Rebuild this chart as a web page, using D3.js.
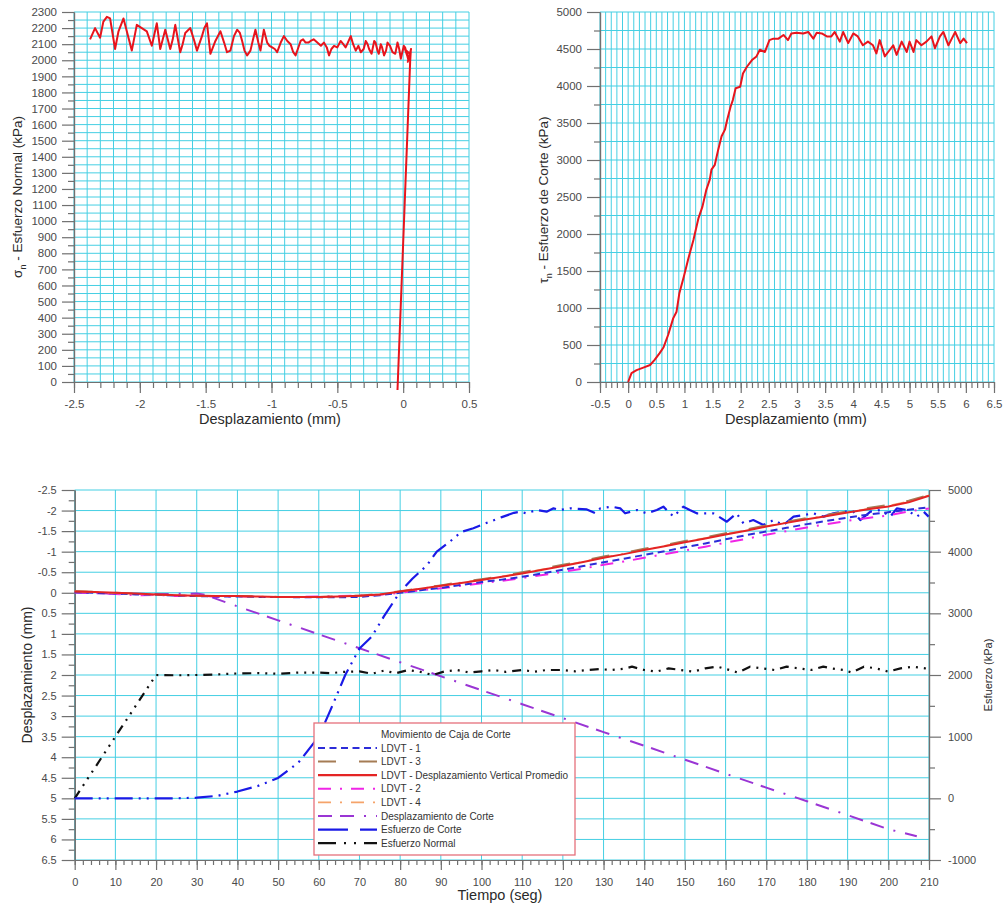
<!DOCTYPE html>
<html><head><meta charset="utf-8">
<script src="https://cdn.jsdelivr.net/npm/d3@7"></script>
<style>body{margin:0;background:#fff;} svg{display:block;}</style>
</head><body><svg id="c" width="1004" height="907"></svg>
<script>
// ---------- DATA ----------
// Chart 1: normal stress vs displacement
const sigmaX = [-0.043,0.053,0.058,0.045,0.06,0.035,0.05,0.025,0.04,0.015,0.03,0.005,-0.018,-0.03,-0.043,-0.06,-0.081,-0.1,-0.119,-0.13,-0.145,-0.16,-0.17,-0.185,-0.195,-0.21,-0.22,-0.24,-0.259,-0.27,-0.284,-0.3,-0.322,-0.34,-0.36,-0.38,-0.398,-0.42,-0.437,-0.455,-0.475,-0.5,-0.525,-0.545,-0.563,-0.58,-0.602,-0.625,-0.652,-0.68,-0.703,-0.72,-0.741,-0.76,-0.779,-0.8,-0.817,-0.835,-0.855,-0.88,-0.906,-0.93,-0.957,-0.975,-0.995,-1.015,-1.033,-1.058,-1.084,-1.1,-1.122,-1.14,-1.16,-1.185,-1.205,-1.223,-1.24,-1.261,-1.285,-1.312,-1.338,-1.36,-1.388,-1.426,-1.445,-1.464,-1.49,-1.51,-1.528,-1.566,-1.59,-1.617,-1.655,-1.675,-1.693,-1.731,-1.75,-1.769,-1.807,-1.845,-1.871,-1.909,-1.947,-1.985,-2.023,-2.061,-2.099,-2.124,-2.162,-2.188,-2.226,-2.25,-2.277,-2.302,-2.34,-2.378];
const sigmaY = [-50,1990,2060,2010,2070,1990,2040,2060,2000,2080,2030,2090,2010,2070,2110,2040,2050,2090,2110,2060,2030,2080,2100,2040,2060,2110,2120,2040,2070,2100,2120,2070,2050,2090,2060,2100,2150,2110,2080,2100,2120,2080,2090,2070,2030,2080,2110,2090,2110,2130,2120,2110,2110,2130,2120,2070,2030,2050,2100,2120,2150,2110,2050,2070,2080,2090,2110,2190,2060,2110,2190,2130,2060,2030,2060,2120,2170,2190,2150,2060,2050,2110,2180,2120,2080,2040,2230,2200,2150,2060,2130,2200,2170,2100,2050,2220,2130,2070,2190,2070,2230,2090,2180,2200,2220,2060,2180,2260,2180,2070,2260,2270,2240,2140,2200,2130];
const sigmaXTicks = [-2.5,-2,-1.5,-1,-0.5,0,0.5];
const sigmaYTicks = [0,100,200,300,400,500,600,700,800,900,1000,1100,1200,1300,1400,1500,1600,1700,1800,1900,2000,2100,2200,2300];

// Chart 2: shear stress vs displacement
const tauX = [0,0.06,0.15,0.27,0.39,0.47,0.56,0.63,0.71,0.80,0.86,0.91,0.99,1.07,1.16,1.25,1.32,1.39,1.45,1.48,1.54,1.60,1.66,1.72,1.76,1.82,1.86,1.91,1.99,2.04,2.11,2.20,2.28,2.34,2.43,2.51,2.58,2.67,2.76,2.84,2.90,2.99,3.11,3.20,3.29,3.35,3.44,3.53,3.61,3.67,3.76,3.82,3.91,4.00,4.08,4.17,4.26,4.35,4.41,4.47,4.56,4.65,4.71,4.77,4.86,4.95,5.00,5.07,5.12,5.21,5.30,5.39,5.45,5.54,5.60,5.69,5.75,5.81,5.90,5.96,6.02];
const tauY = [0,120,160,195,230,300,390,470,635,860,950,1200,1425,1670,1920,2215,2370,2600,2735,2870,2935,3140,3320,3410,3545,3720,3810,3970,3990,4170,4260,4350,4400,4490,4460,4620,4640,4640,4690,4620,4710,4720,4710,4730,4640,4720,4710,4670,4670,4730,4600,4730,4580,4710,4670,4550,4600,4550,4440,4620,4400,4490,4550,4420,4600,4460,4600,4460,4620,4550,4600,4670,4510,4670,4730,4550,4640,4730,4580,4640,4580];
const tauXTicks = [-0.5,0,0.5,1,1.5,2,2.5,3,3.5,4,4.5,5,5.5,6,6.5];
const tauYTicks = [0,500,1000,1500,2000,2500,3000,3500,4000,4500,5000];

// Chart 3: time series
const timeL = [0,5,10,15,20,25,30,35,40,45,50,55,60,65,70,75,80,85,90,95,100,105,110,115,120,125,130,135,140,145,150,155,160,165,170,175,180,185,190,195,200,205,210];
const ldvt1 = [-0.02,0.0,0.02,0.04,0.05,0.07,0.08,0.09,0.09,0.1,0.1,0.11,0.11,0.11,0.1,0.06,0.0,-0.06,-0.12,-0.19,-0.26,-0.32,-0.39,-0.47,-0.56,-0.65,-0.74,-0.83,-0.92,-1.01,-1.11,-1.2,-1.3,-1.4,-1.49,-1.58,-1.67,-1.75,-1.83,-1.9,-1.96,-2.02,-2.08];
const ldvt3 = [-0.04,-0.02,0.0,0.02,0.04,0.06,0.07,0.08,0.08,0.09,0.1,0.1,0.1,0.09,0.07,0.03,-0.04,-0.11,-0.18,-0.26,-0.33,-0.41,-0.5,-0.59,-0.68,-0.78,-0.88,-0.97,-1.07,-1.16,-1.26,-1.35,-1.45,-1.54,-1.64,-1.73,-1.82,-1.9,-1.98,-2.06,-2.14,-2.24,-2.38];
const ldvtAvg = [-0.03,-0.02,0.0,0.02,0.04,0.06,0.07,0.08,0.08,0.09,0.1,0.1,0.1,0.09,0.07,0.04,-0.03,-0.1,-0.17,-0.24,-0.31,-0.39,-0.47,-0.56,-0.65,-0.75,-0.85,-0.94,-1.04,-1.13,-1.23,-1.32,-1.42,-1.51,-1.61,-1.7,-1.79,-1.87,-1.95,-2.03,-2.1,-2.2,-2.36];
const ldvt2 = [-0.02,0.0,0.03,0.06,0.05,0.08,0.06,0.1,0.09,0.1,0.1,0.1,0.09,0.08,0.07,0.05,0.0,-0.06,-0.11,-0.17,-0.23,-0.29,-0.36,-0.43,-0.51,-0.59,-0.68,-0.76,-0.85,-0.94,-1.03,-1.12,-1.22,-1.31,-1.41,-1.5,-1.59,-1.67,-1.75,-1.82,-1.88,-1.98,-2.05];
const ldvt4 = [-0.04,-0.02,0.01,0.03,0.05,0.06,0.08,0.08,0.09,0.09,0.1,0.1,0.1,0.09,0.07,0.04,-0.03,-0.1,-0.17,-0.25,-0.32,-0.4,-0.48,-0.57,-0.66,-0.76,-0.86,-0.95,-1.05,-1.14,-1.24,-1.33,-1.43,-1.52,-1.62,-1.71,-1.8,-1.88,-1.96,-2.04,-2.12,-2.22,-2.37];
const timeD = [0,10,20,30,32,40,50,60,70,80,90,100,110,120,130,140,150,160,170,180,190,200,207];
const despCorte = [0.0,0.02,0.03,0.02,0.05,0.33,0.67,1.01,1.35,1.69,2.03,2.37,2.71,3.05,3.39,3.72,4.06,4.4,4.74,5.07,5.41,5.75,5.92];
const timeC = [0,5,10,15,20,25,30,35,40,45,50,55,60,63,66.5,70,73,76,80,83,86.6,89,92,95,98,101,105,108,109.5,111,113.6,116,117.7,119.3,121.8,125.9,128,129.2,132,134.1,135.3,138.2,140.6,143.1,144.7,147.2,149.6,151.2,152.9,157,160.3,162.7,164.4,166.8,169.3,171.8,174.2,176.7,179.2,181.6,184.1,186.5,189,191.4,193.1,195.6,198,200.5,202.1,204.6,207,208.7,209.9];
const esfCorte = [0,0,0,0,0,0,10,40,110,200,330,580,1000,1450,2000,2430,2620,2950,3350,3560,3780,4000,4150,4320,4380,4460,4560,4630,4648,4622,4676,4648,4703,4676,4703,4685,4622,4703,4730,4703,4622,4676,4622,4676,4730,4568,4730,4676,4622,4622,4486,4622,4459,4513,4432,4513,4432,4568,4595,4622,4568,4622,4648,4648,4513,4648,4676,4568,4703,4676,4568,4648,4568];
const timeN = [0,20,25,30,35,40,45,50,55,60,63,66,70,73,76,79,82,85,88,91,94,97,100,103,106,110,113,116,120,123,126,129,132,135,137,140,143,146,149,152,155,158,161,163,166,169,172,175,178,181,184,186,189,191,194,197,200,203,206,209,210];
const esfNormal = [0,2000,1995,2000,2010,2025,2030,2020,2040,2040,2030,2050,2060,2020,2070,2030,2080,2050,2000,2060,2080,2040,2060,2081,2050,2080,2054,2081,2081,2060,2081,2095,2081,2100,2135,2081,2054,2108,2081,2054,2108,2135,2081,2040,2135,2108,2081,2135,2108,2081,2135,2108,2081,2040,2135,2108,2054,2108,2135,2108,2081];
const timeTicks = [0,10,20,30,40,50,60,70,80,90,100,110,120,130,140,150,160,170,180,190,200,210];
const despTicks = [-2.5,-2,-1.5,-1,-0.5,0,0.5,1,1.5,2,2.5,3,3.5,4,4.5,5,5.5,6,6.5];
const esfTicks = [-1000,0,1000,2000,3000,4000,5000];
const legendLabels = ["LDVT - 1","LDVT - 3","LDVT - Desplazamiento Vertical Promedio","LDVT - 2","LDVT - 4","Desplazamiento de Corte","Esfuerzo de Corte","Esfuerzo Normal"];

// ---------- DRAW ----------
const FONT = "'Liberation Sans', Arial, sans-serif";
const GRID = "#45cfe3", AXIS = "#707070", TXT = "#4a4a4a", TITLE = "#2a2a2a";
const svg = d3.select("#c").attr("font-family", FONT);

function steps(a, b, s) { const n = Math.round((b - a) / s); return d3.range(n + 1).map(i => +(a + i * s).toFixed(6)); }

function drawGrid(g, xs, ys, xv, yv) {
  const [xa, xb] = xs.range(), [ya, yb] = ys.range();
  g.append("g").selectAll("line").data(xv).join("line")
    .attr("x1", d => xs(d)).attr("x2", d => xs(d)).attr("y1", ya).attr("y2", yb)
    .attr("stroke", GRID).attr("stroke-width", 1);
  g.append("g").selectAll("line").data(yv).join("line")
    .attr("y1", d => ys(d)).attr("y2", d => ys(d)).attr("x1", xa).attr("x2", xb)
    .attr("stroke", GRID).attr("stroke-width", 1);
}

function drawAxis(g, gen, transform, vals, size, pad, fs, labeled) {
  const a = g.append("g").attr("transform", transform)
    .call(gen.tickValues(vals).tickSize(size).tickSizeOuter(0).tickPadding(pad)
      .tickFormat(labeled ? (d => String(d)) : ""));
  a.attr("font-family", FONT).attr("font-size", fs);
  a.select(".domain").attr("stroke", AXIS).attr("stroke-width", 1.2);
  a.selectAll(".tick line").attr("stroke", AXIS).attr("stroke-width", 1.2);
  a.selectAll(".tick text").attr("fill", TXT);
  return a;
}

function xyLine(xs, ys, X, Y) {
  return d3.line().x(i => xs(X[i])).y(i => ys(Y[i]))(d3.range(X.length));
}

// ---- Chart 1
{
  const g = svg.append("g");
  const x = d3.scaleLinear().domain([-2.5, 0.5]).range([74, 469]);
  const y = d3.scaleLinear().domain([0, 2300]).range([382, 12]);
  drawGrid(g, x, y, steps(-2.5, 0.5, 0.1), steps(0, 2300, 50));
  drawAxis(g, d3.axisLeft(y), "translate(74,0)", steps(50, 2250, 100), 6, 3, 11.5, false);
  drawAxis(g, d3.axisLeft(y), "translate(74,0)", sigmaYTicks, 12, 5, 11.5, true);
  drawAxis(g, d3.axisBottom(x), "translate(0,382)", steps(-2.5, 0.5, 0.1), 6, 3, 11.5, false);
  drawAxis(g, d3.axisBottom(x), "translate(0,382)", sigmaXTicks, 11, 7, 11.5, true);
  g.append("path").attr("d", xyLine(x, y, sigmaX, sigmaY)).attr("fill", "none")
    .attr("stroke", "#e8141c").attr("stroke-width", 2).attr("stroke-linejoin", "round");
  g.append("text").attr("x", 270).attr("y", 424).attr("text-anchor", "middle")
    .attr("font-size", 14.5).attr("fill", TITLE).text("Desplazamiento (mm)");
  const t = g.append("text").attr("transform", "translate(22,197) rotate(-90)").attr("text-anchor", "middle")
    .attr("font-size", 13.5).attr("fill", TITLE);
  t.append("tspan").text("σ");
  t.append("tspan").attr("font-size", 9).attr("dy", 4).text("n");
  t.append("tspan").attr("dy", -4).text(" - Esfuerzo Normal (kPa)");
}

// ---- Chart 2
{
  const g = svg.append("g");
  const x = d3.scaleLinear().domain([-0.5, 6.5]).range([600, 994]);
  const y = d3.scaleLinear().domain([0, 5000]).range([382, 12]);
  drawGrid(g, x, y, steps(-0.5, 6.5, 0.1), steps(0, 5000, 250));
  drawAxis(g, d3.axisLeft(y), "translate(600,0)", steps(250, 4750, 500), 6, 3, 11.5, false);
  drawAxis(g, d3.axisLeft(y), "translate(600,0)", tauYTicks, 13, 5, 11.5, true);
  drawAxis(g, d3.axisBottom(x), "translate(0,382)", steps(-0.5, 6.5, 0.1), 6, 3, 11.5, false);
  drawAxis(g, d3.axisBottom(x), "translate(0,382)", tauXTicks, 11, 7, 11.5, true);
  g.append("path").attr("d", xyLine(x, y, tauX, tauY)).attr("fill", "none")
    .attr("stroke", "#e8141c").attr("stroke-width", 2).attr("stroke-linejoin", "round");
  g.append("text").attr("x", 796).attr("y", 424).attr("text-anchor", "middle")
    .attr("font-size", 14.5).attr("fill", TITLE).text("Desplazamiento (mm)");
  const t = g.append("text").attr("transform", "translate(548,200) rotate(-90)").attr("text-anchor", "middle")
    .attr("font-size", 13.5).attr("fill", TITLE);
  t.append("tspan").text("τ");
  t.append("tspan").attr("font-size", 9).attr("dy", 4).text("n");
  t.append("tspan").attr("dy", -4).text(" - Esfuerzo de Corte (kPa)");
}

// ---- Chart 3
{
  const g = svg.append("g");
  const x = d3.scaleLinear().domain([0, 210]).range([74.7, 929]);
  const yL = d3.scaleLinear().domain([-2.5, 6.5]).range([490, 860]);
  const yR = d3.scaleLinear().domain([-1000, 5000]).range([860, 490]);
  drawGrid(g, x, yL, timeTicks, despTicks);
  drawAxis(g, d3.axisLeft(yL), "translate(74.7,0)", steps(-2.25, 6.25, 0.5), 6, 3, 11, false);
  drawAxis(g, d3.axisLeft(yL), "translate(74.7,0)", despTicks, 13, 5, 11, true);
  drawAxis(g, d3.axisRight(yR), "translate(929,0)", steps(-500, 4500, 1000), 6, 3, 11, false);
  drawAxis(g, d3.axisRight(yR), "translate(929,0)", esfTicks, 12, 7, 11, true);
  drawAxis(g, d3.axisBottom(x), "translate(0,860)", steps(0, 210, 2), 5, 3, 11, false);
  drawAxis(g, d3.axisBottom(x), "translate(0,860)", timeTicks, 10, 8, 11, true);

  const series = [
    {X: timeD, Y: despCorte, s: yL, c: "#9a35d4", d: "14,8,14,10,2,10", w: 2},
    {X: timeN, Y: esfNormal, s: yR, c: "#111111", d: "9,6,2,6,2,6,2,6", w: 2.2},
    {X: timeC, Y: esfCorte, s: yR, c: "#1a1ae6", d: "18,6,2,6,2,6", w: 2.2},
    {X: timeL, Y: ldvt2, s: yL, c: "#f025e6", d: "13,9,2,9", w: 2},
    {X: timeL, Y: ldvt1, s: yL, c: "#2c2cd8", d: "7,4.5", w: 2},
    {X: timeL, Y: ldvt4, s: yL, c: "#f5a36a", d: "13,9,2,9", w: 1.6},
    {X: timeL, Y: ldvt3, s: yL, c: "#a57c55", d: "18,22", w: 2},
    {X: timeL, Y: ldvtAvg, s: yL, c: "#e42424", d: null, w: 2}
  ];
  series.forEach(o => {
    g.append("path").attr("d", xyLine(x, o.s, o.X, o.Y)).attr("fill", "none")
      .attr("stroke", o.c).attr("stroke-width", o.w).attr("stroke-dasharray", o.d)
      .attr("stroke-linejoin", "round");
  });

  g.append("text").attr("x", 500).attr("y", 900).attr("text-anchor", "middle")
    .attr("font-size", 14.5).attr("fill", TITLE).text("Tiempo (seg)");
  g.append("text").attr("transform", "translate(32,675) rotate(-90)").attr("text-anchor", "middle")
    .attr("font-size", 14).attr("fill", TITLE).text("Desplazamiento (mm)");
  g.append("text").attr("transform", "translate(992,675) rotate(-90)").attr("text-anchor", "middle")
    .attr("font-size", 11).attr("fill", TITLE).text("Esfuerzo (kPa)");

  // legend
  const lg = g.append("g");
  lg.append("rect").attr("x", 314).attr("y", 723).attr("width", 261).attr("height", 132)
    .attr("fill", "#fff").attr("stroke", "#e5707c").attr("stroke-width", 1.3);
  lg.append("text").attr("x", 381).attr("y", 738).attr("font-size", 10).attr("fill", "#333")
    .text("Movimiento de Caja de Corte");
  const legStyles = [
    {c: "#2c2cd8", d: "7,4.5", w: 2},
    {c: "#a57c55", d: "18,23", w: 2},
    {c: "#e42424", d: null, w: 2.2},
    {c: "#f025e6", d: "13,9,2,9", w: 2},
    {c: "#f5a36a", d: "13,9,2,9", w: 1.6},
    {c: "#9a35d4", d: "14,8,14,10,2,10", w: 2},
    {c: "#1a1ae6", d: "30,12", w: 2.2},
    {c: "#111111", d: "18,8,2,8,2,8", w: 2.2}
  ];
  const rowY = i => 748 + i * 13.6;
  lg.selectAll("line.s").data(legendLabels).join("line")
    .attr("x1", 318).attr("x2", 377).attr("y1", (d, i) => rowY(i)).attr("y2", (d, i) => rowY(i))
    .attr("stroke", (d, i) => legStyles[i].c).attr("stroke-width", (d, i) => legStyles[i].w)
    .attr("stroke-dasharray", (d, i) => legStyles[i].d);
  lg.selectAll("text.l").data(legendLabels).join("text")
    .attr("x", 381).attr("y", (d, i) => rowY(i) + 3.5).attr("font-size", 10).attr("fill", "#333")
    .text(d => d);
}
</script></body></html>
